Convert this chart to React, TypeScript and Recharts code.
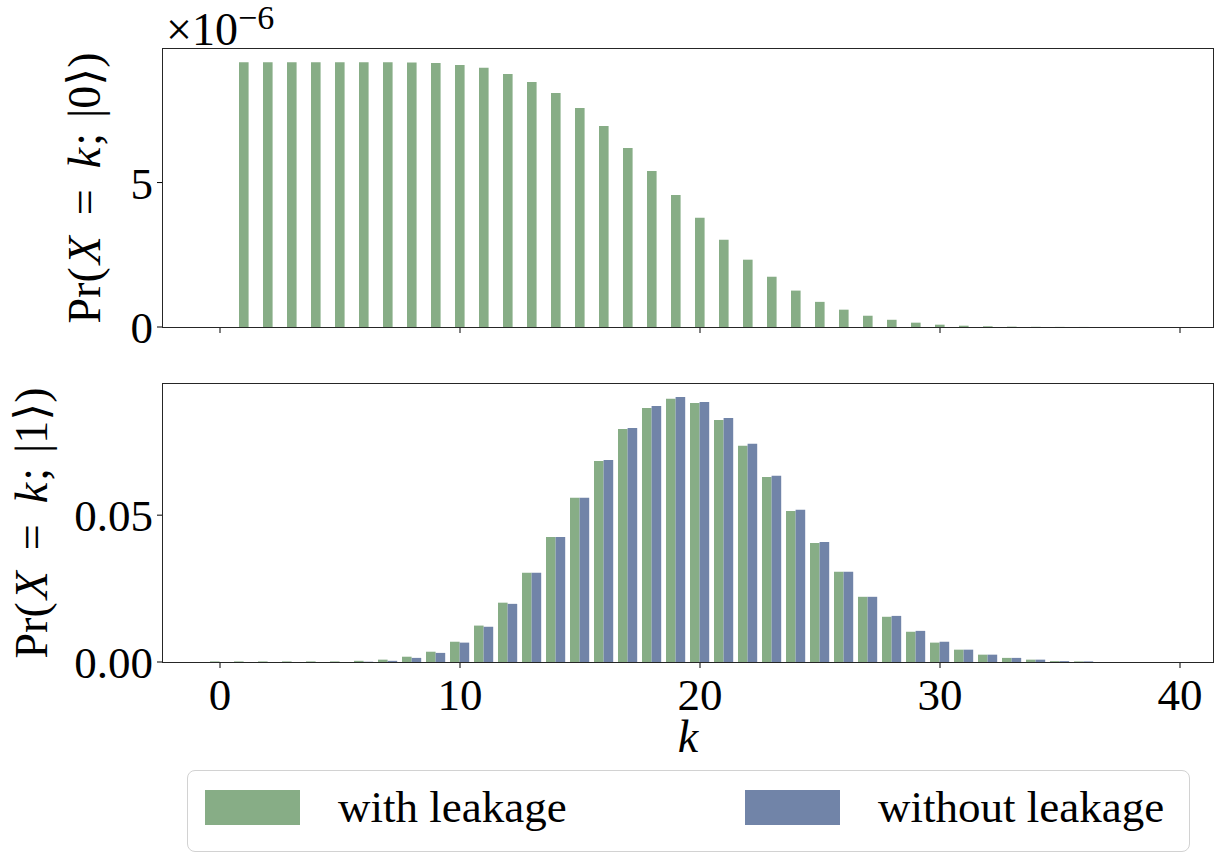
import { BarChart, Bar, XAxis, YAxis, Legend } from "recharts";

const FONT = '"Liberation Serif", "DejaVu Serif", serif';
const GREEN = "#87ad86";
const BLUE = "#7184a8";
const INK = "#000";
const SPINE = "#262626";

// photon count k
const kValues = [
  0, 1, 2, 3, 4, 5, 6, 7, 8, 9, 10, 11, 12, 13, 14, 15, 16, 17, 18, 19, 20,
  21, 22, 23, 24, 25, 26, 27, 28, 29, 30, 31, 32, 33, 34, 35, 36, 37, 38, 39, 40,
];

// Pr(X = k; |0>) with leakage, in units of 1e-6
const pr0WithLeakage = [
  0, 9.165, 9.165, 9.165, 9.165, 9.165, 9.165, 9.165, 9.16, 9.14, 9.07,
  8.97, 8.76, 8.48, 8.1, 7.58, 6.96, 6.2, 5.4, 4.57, 3.78,
  3.02, 2.33, 1.74, 1.26, 0.87, 0.6, 0.39, 0.25, 0.15, 0.08,
  0.045, 0.025, 0.013, 0.007, 0.004, 0.002, 0.001, 0.0005, 0.0003, 0,
];

// Pr(X = k; |1>)
const pr1WithLeakage = [
  0.0002, 0.0002, 0.0002, 0.0002, 0.0002, 0.0002, 0.0004, 0.0008, 0.0018, 0.0035, 0.0069,
  0.0124, 0.0202, 0.0304, 0.0426, 0.0559, 0.0684, 0.0793, 0.0865, 0.0896, 0.0882,
  0.0824, 0.0736, 0.063, 0.0514, 0.0405, 0.0307, 0.0222, 0.0154, 0.0103, 0.0066,
  0.0042, 0.0025, 0.0014, 0.0008, 0.0003, 0.0002, 0, 0, 0, 0,
];
const pr1WithoutLeakage = [
  0, 0, 0, 0, 0, 0, 0.0001, 0.0004, 0.0014, 0.0031, 0.0066,
  0.012, 0.0198, 0.0304, 0.0426, 0.0559, 0.0688, 0.0797, 0.0872, 0.0902, 0.0885,
  0.0831, 0.0743, 0.0634, 0.0518, 0.0409, 0.0307, 0.0222, 0.0157, 0.0106, 0.0069,
  0.0042, 0.0025, 0.0014, 0.0008, 0.0003, 0.0002, 0, 0, 0, 0,
];

const topYTicks = [0, 5];
const bottomYTicks = [0, 0.05];

const topData = kValues.map((k, i) => ({ k, withLeakage: pr0WithLeakage[i] }));
const bottomData = kValues.map((k, i) => ({
  k,
  withLeakage: pr1WithLeakage[i],
  withoutLeakage: pr1WithoutLeakage[i],
}));

const WIDTH = 1218;
const AXIS_W = 163;
const PLOT_W = 1050;
const PLOT_H = 278;
const X_PAD = { left: 45, right: 21 };
const BAR = 9.6;

const tickStyle = { fill: INK, fontSize: 45, fontFamily: FONT };

// recharts clones label elements with its own x/y, so positions go in under other names
function ProbLabel({ state, atX, atY, showScale }: { state: string; atX: number; atY: number; showScale?: boolean }) {
  return (
    <g>
      <text
        transform={`translate(${atX},${atY}) rotate(-90)`}
        textAnchor="middle"
        fontFamily={FONT}
        fontSize={46}
        fill={INK}
      >
        <tspan>Pr(</tspan>
        <tspan dx={3} fontStyle="italic">X</tspan>
        <tspan dx={21}>=</tspan>
        <tspan dx={21} fontStyle="italic">k</tspan>
        <tspan dx={2}>;</tspan>
        <tspan dx={15}>{`|${state}⟩)`}</tspan>
      </text>
      {showScale && (
        <text x={166} y={45} fontFamily={FONT} fontSize={46} fill={INK}>
          <tspan>×10</tspan>
          <tspan fontSize={34} dy={-16}>−6</tspan>
        </text>
      )}
    </g>
  );
}

function AxisName({ atX, atY, text }: { atX: number; atY: number; text: string }) {
  return (
    <text x={atX} y={atY} textAnchor="middle" fontFamily={FONT} fontSize={46} fontStyle="italic" fill={INK}>
      {text}
    </text>
  );
}

function KeyBox({ payload }: any) {
  return (
    <div
      style={{
        position: "relative",
        width: 1003,
        height: 82,
        border: "1.3px solid #d2d2d2",
        borderRadius: 8,
        boxSizing: "border-box",
        background: "#fff",
      }}
    >
      {(payload || []).map((entry: any, i: number) => (
        <div
          key={entry.value}
          style={{ position: "absolute", left: 17 + i * 540, top: 19, display: "flex", alignItems: "center" }}
        >
          <span style={{ display: "inline-block", width: 95, height: 35, background: entry.color }} />
          <span style={{ marginLeft: 38, fontFamily: FONT, fontSize: 45, lineHeight: "35px", color: INK, whiteSpace: "nowrap" }}>
            {entry.value}
          </span>
        </div>
      ))}
    </div>
  );
}

function Frame({ top }: { top: number }) {
  return (
    <div
      style={{
        position: "absolute",
        left: AXIS_W - 0.65,
        top: top - 0.65,
        width: PLOT_W + 1.3,
        height: PLOT_H + 1.3,
        border: `1.3px solid ${SPINE}`,
        boxSizing: "border-box",
        pointerEvents: "none",
      }}
    />
  );
}

export default function App() {
  return (
    <div style={{ position: "absolute", left: 0, top: 0, width: WIDTH, height: 853, background: "#fff" }}>
      <div style={{ position: "absolute", left: 0, top: 0 }}>
        <BarChart width={WIDTH} height={360} data={topData} margin={{ top: 49, right: 5, bottom: 0, left: 0 }} barGap={0}>
          <XAxis
            dataKey="k"
            height={33}
            padding={X_PAD}
            interval={9}
            axisLine={false}
            tickSize={6}
            tickLine={{ stroke: INK }}
            tick={() => <g />}
          />
          <YAxis
            width={AXIS_W}
            domain={[0, 9.623]}
            ticks={topYTicks}
            allowDataOverflow
            axisLine={false}
            tickSize={6}
            tickMargin={4}
            tickLine={{ stroke: INK }}
            tick={tickStyle}
            label={<ProbLabel state="0" atX={100} atY={49 + PLOT_H / 2} showScale />}
          />
          <Bar dataKey="withLeakage" name="with leakage" fill={GREEN} barSize={BAR} isAnimationActive={false} />
        </BarChart>
      </div>
      <Frame top={49} />

      <div style={{ position: "absolute", left: 0, top: 360 }}>
        <BarChart width={WIDTH} height={493} data={bottomData} margin={{ top: 24, right: 5, bottom: 93, left: 0 }} barGap={0}>
          <XAxis
            dataKey="k"
            height={98}
            padding={X_PAD}
            interval={9}
            axisLine={false}
            tickSize={6}
            tickMargin={10}
            tickLine={{ stroke: INK }}
            tick={tickStyle}
            label={<AxisName atX={AXIS_W + PLOT_W / 2} atY={392} text="k" />}
          />
          <YAxis
            width={AXIS_W}
            domain={[0, 0.09466]}
            ticks={bottomYTicks}
            allowDataOverflow
            axisLine={false}
            tickSize={6}
            tickMargin={4}
            tickLine={{ stroke: INK }}
            tick={tickStyle}
            tickFormatter={(v: number) => v.toFixed(2)}
            label={<ProbLabel state="1" atX={47} atY={24 + PLOT_H / 2} />}
          />
          <Legend
            layout="horizontal"
            verticalAlign="middle"
            align="center"
            wrapperStyle={{ left: 187, top: 410, width: 1003, height: 82 }}
            content={<KeyBox />}
          />
          <Bar dataKey="withLeakage" name="with leakage" fill={GREEN} barSize={BAR} isAnimationActive={false} />
          <Bar dataKey="withoutLeakage" name="without leakage" fill={BLUE} barSize={BAR} isAnimationActive={false} />
        </BarChart>
      </div>
      <Frame top={384} />
    </div>
  );
}
